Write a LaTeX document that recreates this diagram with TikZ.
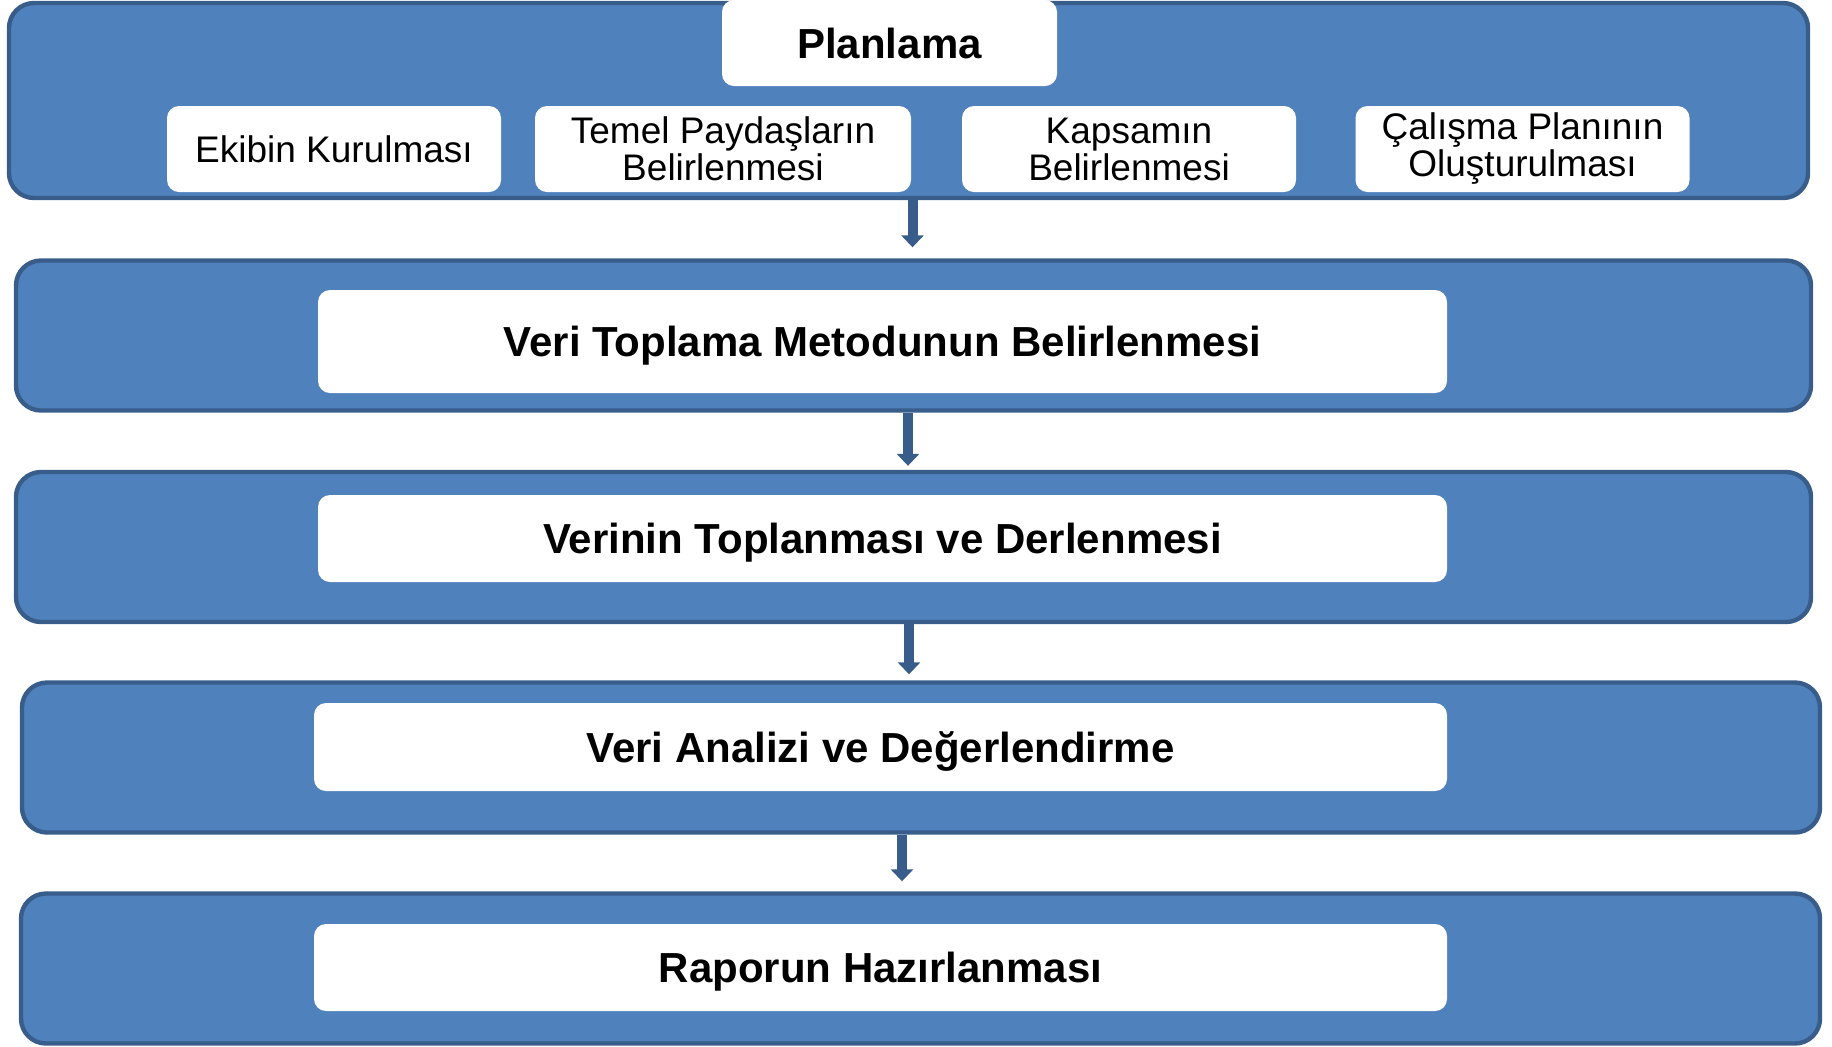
\documentclass[tikz,border=0pt]{standalone}
\usepackage{fontspec}
\setmainfont{Liberation Sans}
\usepackage{xcolor}
\usetikzlibrary{arrows.meta,positioning,calc}
\definecolor{bandblue}{HTML}{4F81BD}
\definecolor{bandedge}{HTML}{385D8A}
\newcommand\stepfont{\fontsize{21}{25}\selectfont\bfseries}
\newcommand\subfont{\fontsize{18.5}{18.5}\selectfont}

\begin{document}
\begin{tikzpicture}[x = 0.5pt, y = -0.5pt,
  band/.style = {draw = bandedge, fill = bandblue, line width = 2.2pt, rounded corners = 12.5pt, minimum height = 75pt},
  stepbox/.style = {fill = white, rounded corners = 6pt, align = center, inner sep = 0pt, text depth = 0pt, font = \stepfont},
  subbox/.style = {fill = white, rounded corners = 6pt, align = center, inner sep = 0pt, minimum width = 167pt, minimum height = 43pt, font = \subfont},
  flow/.style = {draw = bandedge, line width = 5pt, -{Triangle[width = 11pt, length = 6pt]}}]
\useasboundingbox (0,0) rectangle (1832,1046);
% the five bands
\node[band, minimum width = 899.5pt, minimum height = 97.5pt] (b1) at (908.5, 100.5) {};
\node[band, minimum width = 897.5pt] (b2) at (913.5, 335.5) {};
\node[band, minimum width = 897.5pt] (b3) at (913.5, 547) {};
\node[band, minimum width = 899pt] (b4) at (921, 757.5) {};
\node[band, minimum width = 899.5pt] (b5) at (920.5, 968.5) {};
% planning and its parts
\node[stepbox, minimum width = 167.5pt, minimum height = 43pt] (plan) at (889.5, 43) {Planlama};
\node[subbox] (ekip) at (334, 149) {Ekibin Kurulması};
\node[subbox, minimum width = 188pt] (paydas) at (723, 149) {Temel Paydaşların\\Belirlenmesi};
\node[subbox] (kapsam) at (1129, 149) {Kapsamın\\Belirlenmesi};
\node[subbox] (calisma) at (1522.5, 149) {Çalışma Planının\\Oluşturulması};
% the other steps
\node[stepbox, minimum width = 564.5pt, minimum height = 51.5pt] (metod) at (882.5, 341.5) {Veri Toplama Metodunun Belirlenmesi};
\node[stepbox, minimum width = 564.5pt, minimum height = 43.5pt] (topla) at (882.5, 538.5) {Verinin Toplanması ve Derlenmesi};
\node[stepbox, minimum width = 566.5pt, minimum height = 44pt] (analiz) at (880.5, 747) {Veri Analizi ve Değerlendirme};
\node[stepbox, minimum width = 566.5pt, minimum height = 43.5pt] (rapor) at (880.5, 967.5) {Raporun Hazırlanması};
% arrows
\draw[flow, shorten > = 5.5pt] ([xshift = 2pt]b1.south) -- ([xshift = 2pt]b1.south |- b2.north);
\draw[flow, shorten > = 2pt] ([xshift = -2.75pt]b2.south) -- ([xshift = -2.75pt]b2.south |- b3.north);
\draw[flow, shorten > = 3pt] ([xshift = -2.25pt]b3.south) -- ([xshift = -2.25pt]b3.south |- b4.north);
\draw[flow, shorten > = 5pt] ([xshift = -9.5pt]b4.south) -- ([xshift = -9.5pt]b4.south |- b5.north);
\end{tikzpicture}
\end{document}
